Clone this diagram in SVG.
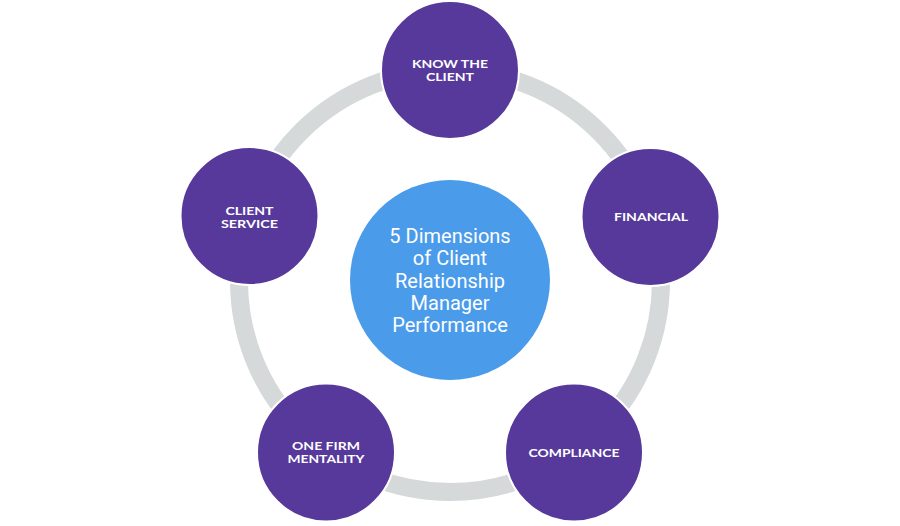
<svg xmlns="http://www.w3.org/2000/svg" width="900" height="526" viewBox="0 0 900 526">
<style>
.node{fill:#56399A;stroke:#ffffff;stroke-width:2}
.lbl{font-family:Lato,"Liberation Sans",sans-serif;font-weight:700;font-size:10.8px;fill:#ffffff;text-anchor:middle}
.ctr{font-family:Roboto,"Liberation Sans",sans-serif;font-weight:400;font-size:20px;fill:#ffffff;text-anchor:middle}
</style>
<rect width="900" height="526" fill="#ffffff"/>
<g id="connectors">
<circle cx="450" cy="281" r="211" fill="none" stroke="#D5D9DA" stroke-width="18"/>
</g>
<g id="center">
<circle cx="450" cy="280" r="100" fill="#4A9BEA"/>
<text class="ctr"><tspan x="450" y="243">5 Dimensions</tspan><tspan x="450" y="265">of Client</tspan><tspan x="450" y="287.5">Relationship</tspan><tspan x="450" y="309.5">Manager</tspan><tspan x="450" y="332">Performance</tspan></text>
</g>
<g id="know-the-client">
<circle class="node" cx="450" cy="70" r="69"/>
<text class="lbl"><tspan x="450" y="67.5" textLength="76" lengthAdjust="spacingAndGlyphs">KNOW THE</tspan><tspan x="450" y="80.5" textLength="48" lengthAdjust="spacingAndGlyphs">CLIENT</tspan></text>
</g>
<g id="financial">
<circle class="node" cx="650.5" cy="217" r="69"/>
<text class="lbl" x="651" y="220.5" textLength="74" lengthAdjust="spacingAndGlyphs">FINANCIAL</text>
</g>
<g id="compliance">
<circle class="node" cx="574" cy="452.5" r="69"/>
<text class="lbl" x="574" y="456.5" textLength="91" lengthAdjust="spacingAndGlyphs">COMPLIANCE</text>
</g>
<g id="one-firm-mentality">
<circle class="node" cx="326" cy="452.5" r="69"/>
<text class="lbl"><tspan x="326" y="450" textLength="68" lengthAdjust="spacingAndGlyphs">ONE FIRM</tspan><tspan x="326" y="463" textLength="77" lengthAdjust="spacingAndGlyphs">MENTALITY</tspan></text>
</g>
<g id="client-service">
<circle class="node" cx="249.5" cy="216" r="69"/>
<text class="lbl"><tspan x="249.5" y="214.5" textLength="48" lengthAdjust="spacingAndGlyphs">CLIENT</tspan><tspan x="249.5" y="227.5" textLength="57" lengthAdjust="spacingAndGlyphs">SERVICE</tspan></text>
</g>
</svg>
